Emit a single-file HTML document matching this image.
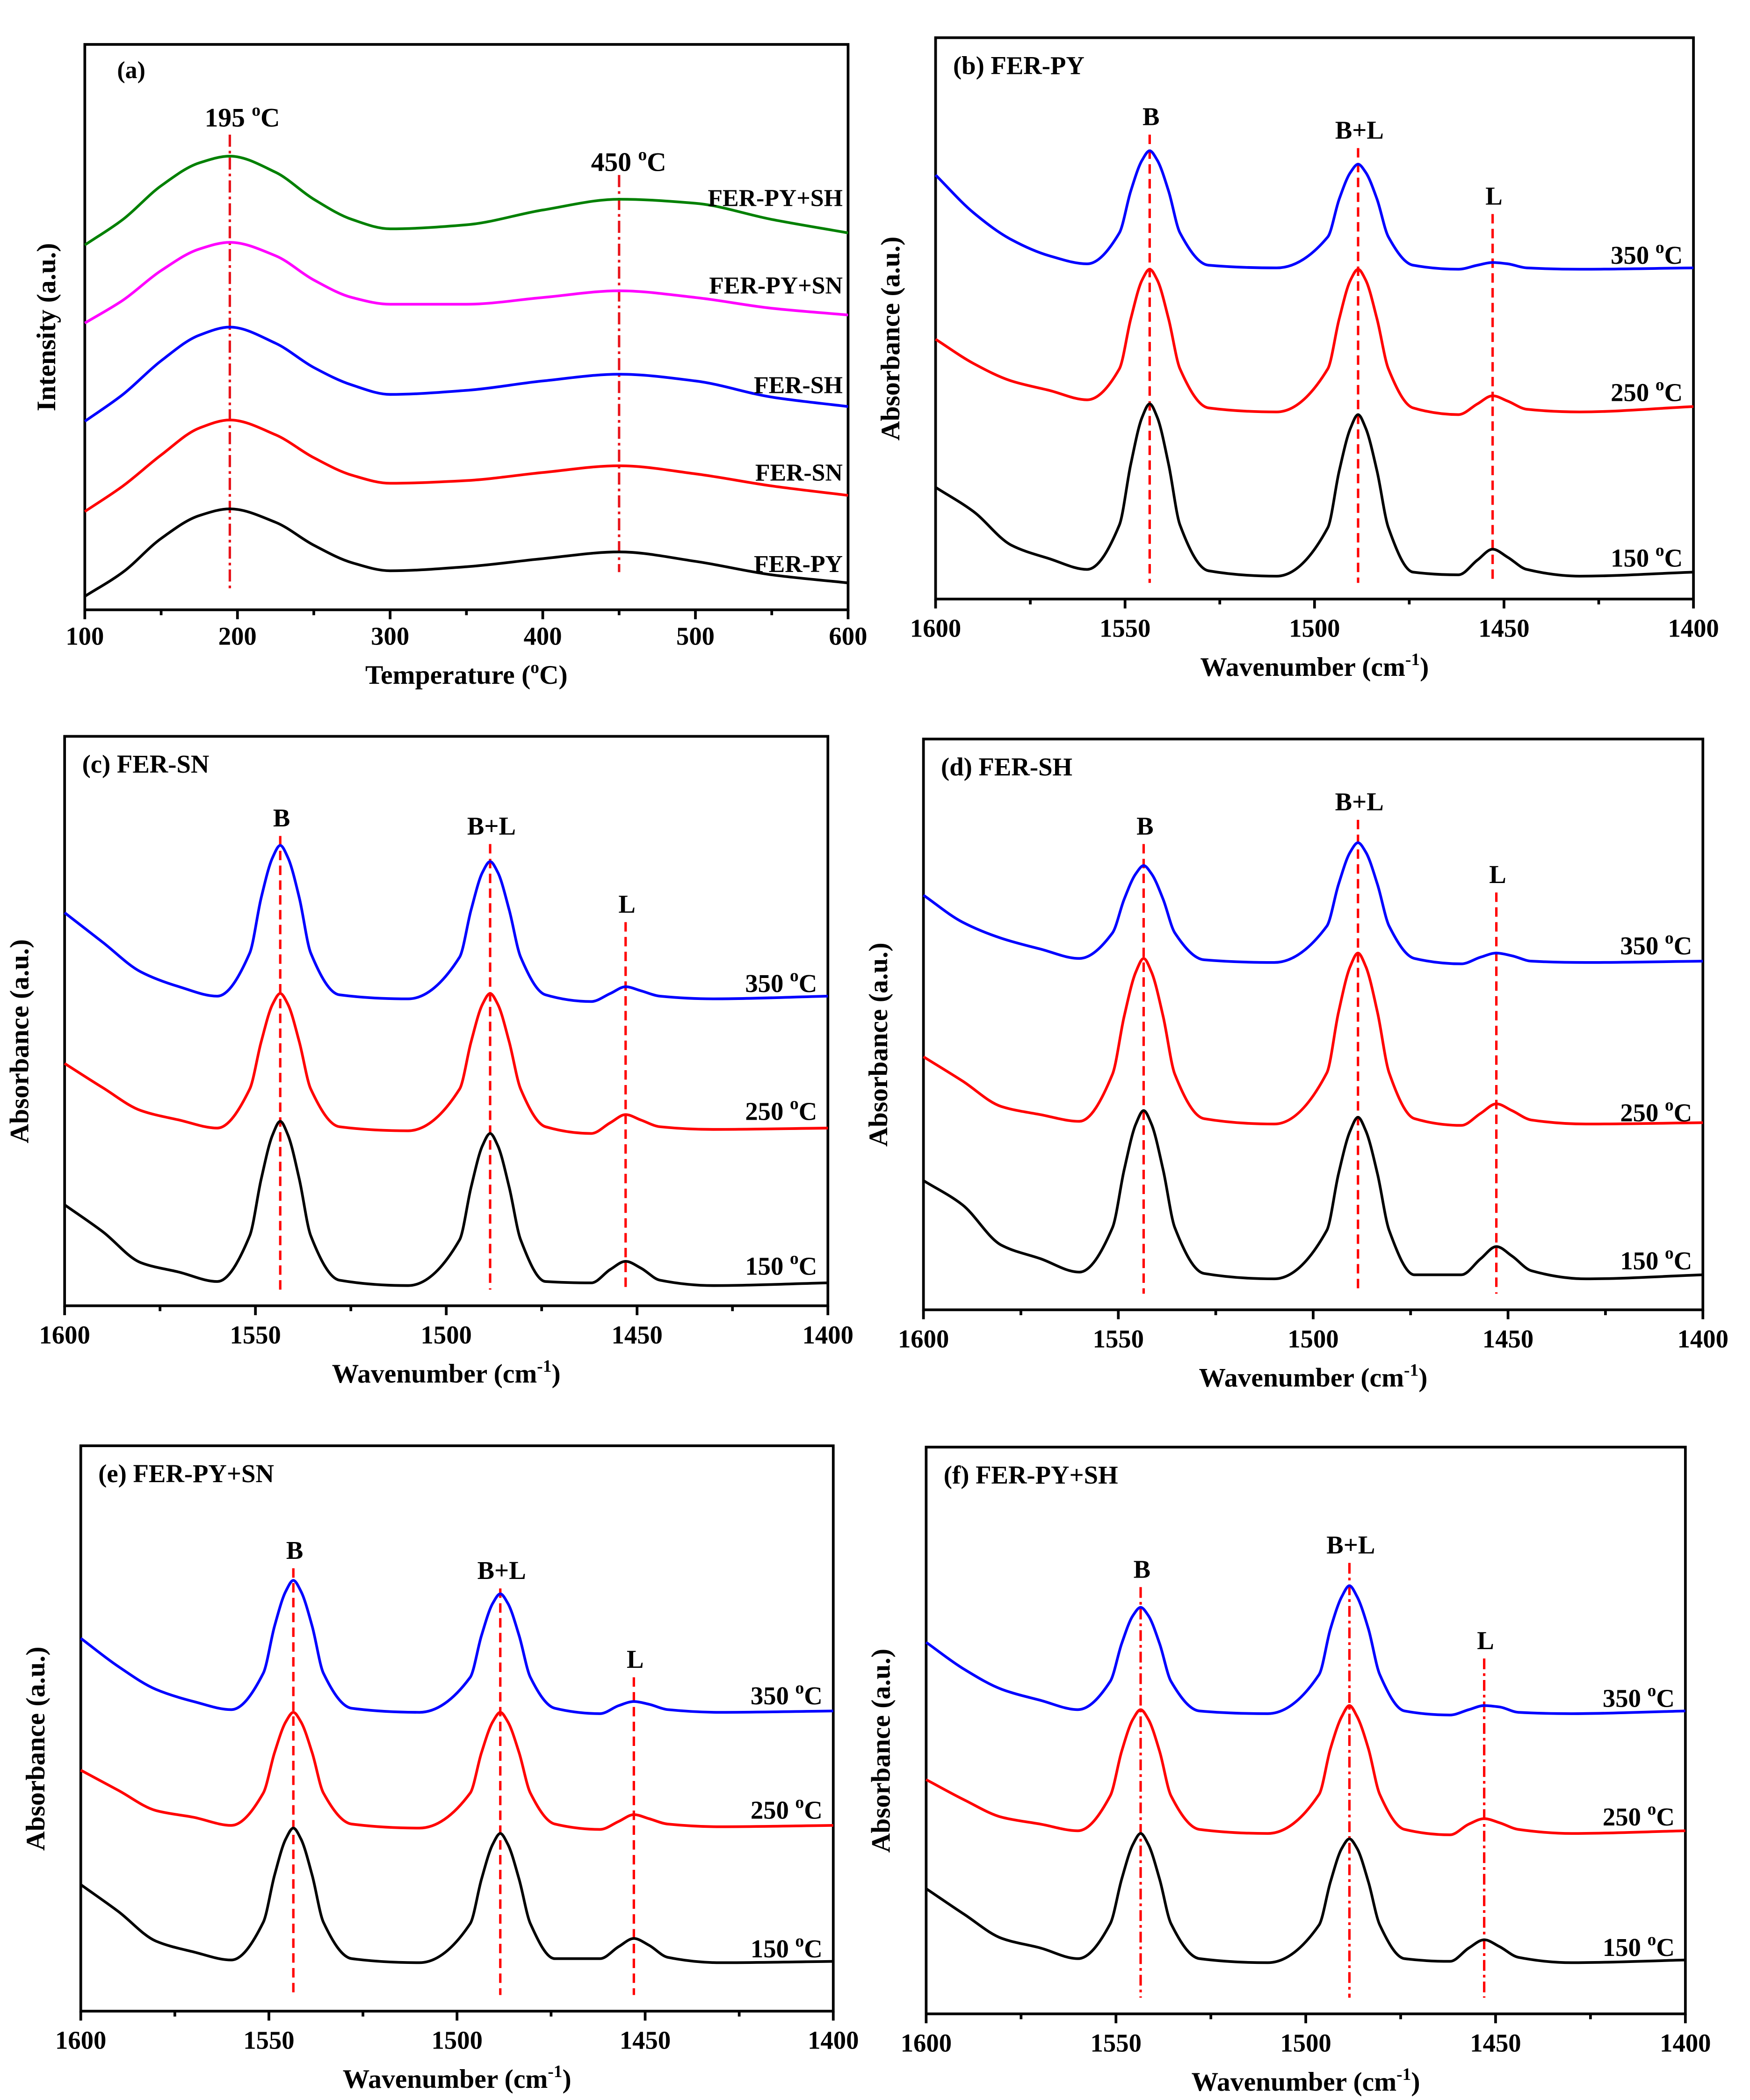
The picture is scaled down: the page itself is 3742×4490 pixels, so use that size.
<!DOCTYPE html>
<html><head><meta charset="utf-8"><style>
html,body{margin:0;padding:0;background:#fff;}
svg{display:block;}
text{font-family:"Liberation Serif",serif;font-weight:bold;fill:#000;}
</style></head><body>
<svg id="fig" width="3742" height="4490" viewBox="0 0 1300 1560" preserveAspectRatio="none" xmlns="http://www.w3.org/2000/svg"></svg>
<script>
// ---- Panel (a) data: TPD intensity (a.u.) vs temperature ----
const tempGrid = [100,125,150,175,195,225,250,275,300,350,400,450,500,550,600];
const tpdPY   = [10,28,53,70,75,65,48,35,29,32,38,43,36,26,20];
const tpdSN   = [73,92,115,135,141,130,113,100,94,96,102,107,101,92,85];
const tpdSH   = [140,160,185,204,210,198,180,167,160,163,170,175,170,158,151];
const tpdPYSN = [213,230,252,268,273,263,245,232,227,227,232,237,232,224,219];
const tpdPYSH = [271,290,315,332,337,325,305,290,283,286,297,305,302,290,280];
const tempTicks = [100,200,300,400,500,600];
// ---- IR spectra: wavenumber grid ----
const wn = [1600,1590,1580,1570,1560,1551.5,1548.5,1545.5,1543.5,1541.5,1538.5,1535.5,1528,1510,1496.5,1493.5,1490.5,1488.5,1486.5,1483.5,1480.5,1474,1462,1457,1453,1449,1444,1430,1400];
const wnTicks = [1600,1550,1500,1450,1400];
// (b) FER-PY
const b150 = [83,65,40,30,22,55,100,135,145,135,100,55,21,17,53,95,127,137,127,95,53,20,18,29,37,31,22,17,20];
const b250 = [193,175,162,155,148,171,208,237,245,237,208,171,142,139,171,208,237,245,237,208,171,142,137,145,151,147,141,139,143];
const b350 = [315,287,267,255,249,272,303,326,333,326,303,272,248,246,269,297,317,323,317,297,269,248,245,248,250,249,246,245,246];
// (c) FER-SN
const c150 = [75,55,32,25,18,52,94,127,137,127,94,52,19,15,49,88,119,128,119,88,49,18,17,27,33,28,19,15,17];
const c250 = [180,162,145,138,132,161,196,224,232,224,196,161,133,130,161,196,224,232,224,196,161,133,128,136,142,138,133,131,132];
const c350 = [292,270,248,237,230,262,303,333,342,333,303,262,231,228,259,294,322,330,322,294,259,231,226,232,237,234,230,228,230];
// (d) FER-SH
const d150 = [96,78,48,38,28,61,104,138,148,138,104,61,27,23,59,101,133,143,133,101,59,26,26,38,47,40,29,23,26];
const d250 = [188,170,151,145,140,175,218,251,261,251,218,175,142,138,176,221,255,265,255,221,176,142,137,146,153,148,141,138,139];
const d350 = [308,288,276,268,261,280,305,324,330,324,305,280,260,258,285,316,340,347,340,316,285,261,257,262,265,263,259,258,259];
// (e) FER-PY+SN
const e150 = [94,74,52,44,38,66,101,128,136,128,101,66,39,36,65,98,124,132,124,98,65,39,39,48,54,49,40,36,37];
const e250 = [179,164,149,144,138,162,192,215,222,215,192,162,139,136,162,192,215,222,215,192,162,139,135,141,146,143,139,137,138];
const e350 = [277,256,239,230,224,251,286,312,320,312,286,251,225,222,248,279,303,310,303,279,248,225,221,227,230,228,224,222,223];
// (f) FER-PY+SH
const f150 = [93,74,56,49,41,67,100,126,134,126,100,67,41,38,66,98,123,130,123,98,66,41,39,49,55,50,42,38,40];
const f250 = [174,159,146,141,136,162,195,219,226,219,195,162,137,134,163,197,221,229,221,197,163,137,133,141,145,142,137,134,136];
const f350 = [276,256,241,233,226,247,275,296,302,296,275,247,225,223,252,286,310,318,310,286,252,225,222,226,229,228,224,223,225];
const peakPos = [1543.5,1488.5,1453];
const peakNames = ['B','B+L','L'];

const NS='http://www.w3.org/2000/svg';
const svg=document.getElementById('fig');
function mk(tag,attrs,parent){const e=document.createElementNS(NS,tag);for(const k in attrs)e.setAttribute(k,attrs[k]);(parent||svg).appendChild(e);return e;}
function txt(x,y,s,size,anchor,parent){const t=mk('text',{x:x,y:y,'font-size':size,'text-anchor':anchor||'start'},parent);t.innerHTML=s;return t;}
// monotone cubic (Fritsch-Carlson) path; pts sorted by increasing x
function pathFrom(pts){
 const n=pts.length,dx=[],m=[],t=new Array(n);
 for(let i=0;i<n-1;i++){dx[i]=pts[i+1][0]-pts[i][0];m[i]=(pts[i+1][1]-pts[i][1])/dx[i];}
 t[0]=m[0];t[n-1]=m[n-2];
 for(let i=1;i<n-1;i++){ if(m[i-1]*m[i]<=0)t[i]=0; else {const w1=2*dx[i]+dx[i-1],w2=dx[i]+2*dx[i-1];t[i]=(w1+w2)/(w1/m[i-1]+w2/m[i]);}}
 let d='M'+pts[0][0].toFixed(2)+','+pts[0][1].toFixed(2);
 for(let i=0;i<n-1;i++){const h=dx[i]/3;
  d+=' C'+(pts[i][0]+h).toFixed(2)+','+(pts[i][1]+t[i]*h).toFixed(2)+' '+(pts[i+1][0]-h).toFixed(2)+','+(pts[i+1][1]-t[i+1]*h).toFixed(2)+' '+pts[i+1][0].toFixed(2)+','+pts[i+1][1].toFixed(2);}
 return d;}
const sup=s=>'<tspan dy="-8" font-size="13">'+s+'</tspan><tspan dy="8">';

// ---------- Panel (a) ----------
(function(){
 const X0=63,X1=630,Y0=33,Y1=453;
 const g=mk('g',{});
 
 
 const xs=v=>X0+(v-100)/500*(X1-X0);
 const ys=v=>Y1-v;
 const frame=mk('rect',{x:X0,y:Y0,width:X1-X0,height:Y1-Y0,fill:'none',stroke:'#000','stroke-width':2},g);
 
 
 for(let v=100;v<=600;v+=50){const major=(v%100===0);
  mk('line',{x1:xs(v),x2:xs(v),y1:Y1,y2:Y1+(major?7:4),stroke:'#000','stroke-width':2},g);}
 tempTicks.forEach(v=>{const t=txt(xs(v),Y1+26,String(v),19,'middle',g);
  
  });
 const xt=txt((X0+X1)/2,Y1+55,'Temperature ('+sup('o')+'C)</tspan>',20,'middle',g);
 
 
 const yt=txt(0,0,'Intensity (a.u.)',20,'middle',g);yt.setAttribute('transform','translate(41,'+(Y0+Y1)/2+') rotate(-90)');
 
 
 txt(X0+24,Y0+25,'(a)',18,'start',g);
 [[195,100,438],[450,130,425]].forEach(r=>{const l=mk('line',{x1:xs(r[0]),x2:xs(r[0]),y1:r[1],y2:r[2],stroke:'#e8141b','stroke-width':1.8,'stroke-dasharray':'9,3,2,3'},g);
  
  });
 txt(180,94,'195 '+sup('o')+'C</tspan>',20,'middle',g);
 txt(467,127,'450 '+sup('o')+'C</tspan>',20,'middle',g);
 const series=[[tpdPY,'#000','FER-PY',425],[tpdSN,'#ff0000','FER-SN',357],[tpdSH,'#0000ff','FER-SH',292],[tpdPYSN,'#ff00ff','FER-PY+SN',218],[tpdPYSH,'#008000','FER-PY+SH',153]];
 series.forEach(s=>{const p=mk('path',{d:pathFrom(tempGrid.map((t,i)=>[xs(t),ys(s[0][i])])),fill:'none',stroke:s[1],'stroke-width':2},g);
  
  
  const lb=txt(626,s[3],s[2],18,'end',g);
  
  });
})();

// ---------- IR panels ----------
function irPanel(cfg){
 const {X0,X1,Y0,Y1,title,name,data,temps,labY,dash}=cfg;
 const g=mk('g',{});
 
 
 const xs=v=>X0+(1600-v)/200*(X1-X0);
 const ys=v=>Y1-v;
 const frame=mk('rect',{x:X0,y:Y0,width:X1-X0,height:Y1-Y0,fill:'none',stroke:'#000','stroke-width':2},g);
 
 
 for(let v=1400;v<=1600;v+=25){const major=(v%50===0);
  mk('line',{x1:xs(v),x2:xs(v),y1:Y1,y2:Y1+(major?7:4),stroke:'#000','stroke-width':2},g);}
 wnTicks.forEach(v=>{const t=txt(xs(v),Y1+28,String(v),19,'middle',g);
  
  });
 const xt=txt((X0+X1)/2,Y1+57,'Wavenumber (cm'+sup('-1')+')</tspan>',20,'middle',g);
 
 
 const yt=txt(0,0,'Absorbance (a.u.)',20,'middle',g);yt.setAttribute('transform','translate('+(X0-27)+','+((Y0+Y1)/2+15)+') rotate(-90)');
 
 
 const tt=txt(X0+13,Y0+27,title,19,'start',g);
 
 
 peakPos.forEach((w,i)=>{const l=mk('line',{x1:xs(w),x2:xs(w),y1:labY[i]+7,y2:Y1-12,stroke:'#ff0000','stroke-width':1.8,'stroke-dasharray':dash},g);
  
  
  const t=txt(xs(w)+1,labY[i],peakNames[i],19,'middle',g);
  
  });
 const cols=['#000','#ff0000','#0000ff'],tl=['150','250','350'];
 data.forEach((arr,k)=>{const p=mk('path',{d:pathFrom(wn.map((w,i)=>[xs(w),ys(arr[i])])),fill:'none',stroke:cols[k],'stroke-width':2},g);
  
  
  const lb=txt(X1-8,temps[k],tl[k]+' '+sup('o')+'C</tspan>',19,'end',g);
  
  });
}
irPanel({X0:695,X1:1258,Y0:28,Y1:445,title:'(b) FER-PY',name:'panel-b-fer-py',data:[b150,b250,b350],temps:[421,298,196],labY:[93,103,152],dash:'7,4'});
irPanel({X0:48,X1:615,Y0:547,Y1:970,title:'(c) FER-SN',name:'panel-c-fer-sn',data:[c150,c250,c350],temps:[947,832,737],labY:[614,620,678],dash:'7,4'});
irPanel({X0:686,X1:1265,Y0:549,Y1:973,title:'(d) FER-SH',name:'panel-d-fer-sh',data:[d150,d250,d350],temps:[943,833,709],labY:[620,602,656],dash:'7,4'});
irPanel({X0:60,X1:619,Y0:1074,Y1:1494,title:'(e) FER-PY+SN',name:'panel-e-fer-py-sn',data:[e150,e250,e350],temps:[1454,1351,1266],labY:[1158,1173,1239],dash:'7,4'});
irPanel({X0:688,X1:1252,Y0:1075,Y1:1496,title:'(f) FER-PY+SH',name:'panel-f-fer-py-sh',data:[f150,f250,f350],temps:[1453,1356,1268],labY:[1172,1154,1225],dash:'8,3,2,3'});
</script>
</body></html>
